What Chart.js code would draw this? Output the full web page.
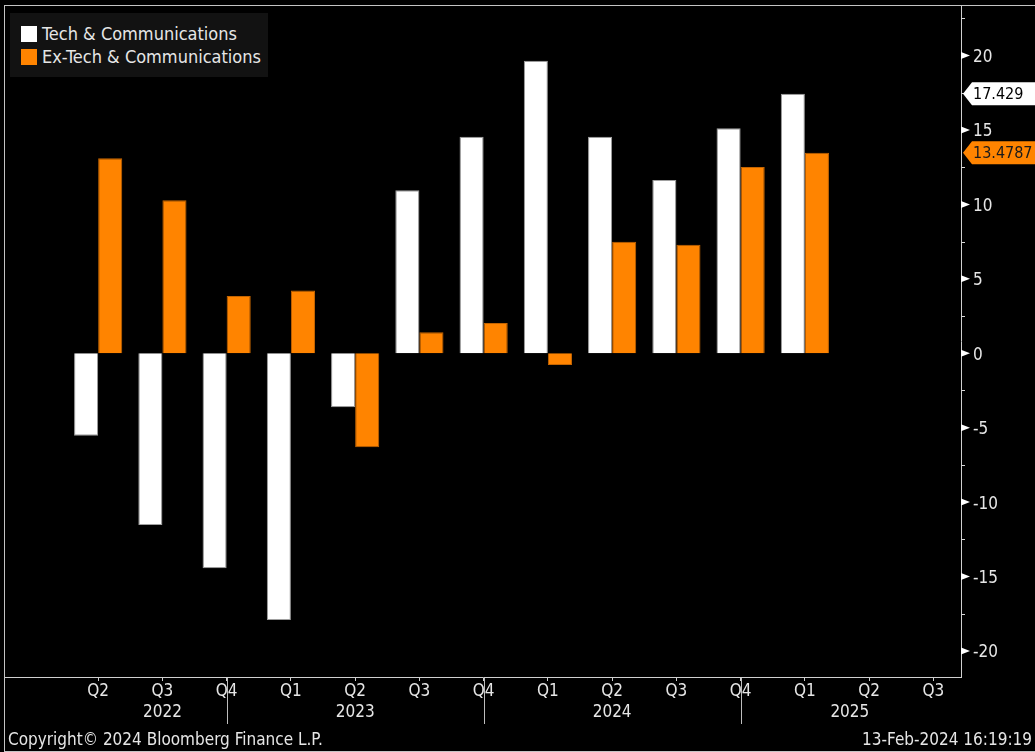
<!DOCTYPE html>
<html>
<head>
<meta charset="utf-8">
<script src="https://cdn.jsdelivr.net/npm/chart.js@4.4.1/dist/chart.umd.min.js"></script>
<style>
  html, body { margin: 0; padding: 0; background: #000; }
  #wrap {
    position: relative; width: 1035px; height: 752px; overflow: hidden;
    font-family: 'DejaVu Sans Condensed', 'DejaVu Sans', sans-serif; color: #e6e6e6;
  }
  #chart { position: absolute; left: 0; top: 0; }
  #frame {
    position: absolute; left: 4px; top: 5px; width: 1040px; height: 747px;
    border: 1px solid #c4c4c4; box-sizing: border-box; pointer-events: none;
  }
  #legend {
    position: absolute; left: 10px; top: 13px; width: 258px; height: 64px;
    background: #121212; font-size: 18px;
  }
  #legend .item { position: absolute; left: 11px; height: 20px; line-height: 20px; white-space: nowrap; }
  #legend .sw { display: inline-block; width: 16px; height: 16px; vertical-align: top; margin-top: 2px; margin-right: 5px; }
  .foot { position: absolute; top: 728px; font-size: 17px; line-height: 22px; white-space: nowrap; }
</style>
</head>
<body>
<div id="wrap">
  <canvas id="chart" width="1035" height="752"></canvas>
  <div id="legend"></div>
  <div class="foot" style="left:8px">Copyright© 2024 Bloomberg Finance L.P.</div>
  <div class="foot" style="right:3px">13-Feb-2024 16:19:19</div>
  <div id="frame"></div>
</div>
<script>
const FONT = "'DejaVu Sans Condensed', 'DejaVu Sans', sans-serif";

// quarterly axis, Q2 2022 .. Q3 2025
const quarters = ['Q2', 'Q3', 'Q4', 'Q1', 'Q2', 'Q3', 'Q4', 'Q1', 'Q2', 'Q3', 'Q4', 'Q1', 'Q2', 'Q3'];
const years = ['2022', '2023', '2024', '2025'];
const yearTickAt = [1, 4, 8, 11.7];     // where each year caption sits on the quarter axis
const yearBreaks = [2, 6, 10];          // divider lines under the axis

const seriesNames = ['Tech & Communications', 'Ex-Tech & Communications'];
const techComm = [-5.54, -11.54, -14.44, -17.92, -3.63, 10.95, 14.55, 19.66, 14.55, 11.64, 15.12, 17.429];
const exTechComm = [13.1, 10.28, 3.85, 4.21, -6.32, 1.41, 2.04, -0.79, 7.5, 7.3, 12.52, 13.4787];

const yMajor = [-20, -15, -10, -5, 0, 5, 10, 15, 20];
const yMinor = [-17.5, -12.5, -7.5, -2.5, 2.5, 7.5, 12.5, 17.5, 22.5];

const colors = ['#ffffff', '#ff8400'];
const badgeText = ['#000000', '#1a1a1a'];

// legend
const legend = document.getElementById('legend');
seriesNames.forEach((name, i) => {
  const el = document.createElement('div');
  el.className = 'item';
  el.style.top = (i === 0 ? 11 : 34) + 'px';
  el.innerHTML = '<span class="sw" style="background:' + colors[i] + '"></span>' + name;
  legend.appendChild(el);
});

// keep label overhang from shrinking the plot area
const noOverhang = (s) => {
  s.paddingTop = 0; s.paddingBottom = 0; s.paddingLeft = 0; s.paddingRight = 0;
};

// right-axis arrows, minor ticks, year row and last-value badges
const decorations = {
  id: 'decorations',
  afterDraw(chart) {
    const { ctx, chartArea } = chart;
    const x = chart.scales.x, y = chart.scales.y;
    const ax = chartArea.right;
    ctx.save();

    ctx.fillStyle = '#ffffff';
    yMajor.forEach((v) => {
      const py = y.getPixelForValue(v);
      ctx.beginPath();
      ctx.moveTo(ax, py - 3.5);
      ctx.lineTo(ax + 9, py);
      ctx.lineTo(ax, py + 3.5);
      ctx.closePath();
      ctx.fill();
    });
    ctx.strokeStyle = '#d8d8d8';
    ctx.lineWidth = 1;
    yMinor.forEach((v) => {
      const py = Math.round(y.getPixelForValue(v)) + 0.5;
      ctx.beginPath();
      ctx.moveTo(ax, py);
      ctx.lineTo(ax + 4, py);
      ctx.stroke();
    });

    // year dividers and captions
    ctx.strokeStyle = '#bdbdbd';
    yearBreaks.forEach((v) => {
      const px = Math.round(x.getPixelForValue(v)) + 0.5;
      ctx.beginPath();
      ctx.moveTo(px, chartArea.bottom + 1);
      ctx.lineTo(px, chartArea.bottom + 47);
      ctx.stroke();
    });
    ctx.fillStyle = '#e6e6e6';
    ctx.font = '17px ' + FONT;
    ctx.textAlign = 'center';
    ctx.textBaseline = 'middle';
    years.forEach((t, i) => {
      ctx.fillText(t, x.getPixelForValue(yearTickAt[i]), chartArea.bottom + 36);
    });

    // last value badges
    ctx.font = '16px ' + FONT;
    chart.data.datasets.forEach((ds, i) => {
      const last = ds.data[ds.data.length - 1];
      const py = y.getPixelForValue(last.y);
      ctx.fillStyle = colors[i];
      ctx.beginPath();
      ctx.moveTo(ax + 2, py);
      ctx.lineTo(ax + 11, py - 11.5);
      ctx.lineTo(chart.width, py - 11.5);
      ctx.lineTo(chart.width, py + 11.5);
      ctx.lineTo(ax + 11, py + 11.5);
      ctx.closePath();
      ctx.fill();
      ctx.fillStyle = badgeText[i];
      ctx.textAlign = 'left';
      ctx.fillText(String(last.y), ax + 12, py + 1);
    });
    ctx.restore();
  }
};

new Chart(document.getElementById('chart'), {
  type: 'bar',
  data: {
    datasets: [
      {
        label: seriesNames[0],
        data: techComm.map((v, i) => ({ x: i, y: v })),
        backgroundColor: colors[0],
        borderColor: '#a0a0a0',
        borderWidth: 1,
      },
      {
        label: seriesNames[1],
        data: exTechComm.map((v, i) => ({ x: i, y: v })),
        backgroundColor: colors[1],
        borderColor: '#c46400',
        borderWidth: 1,
      },
    ],
  },
  options: {
    responsive: false,
    animation: false,
    categoryPercentage: 0.75,
    barPercentage: 1,
    layout: { padding: { left: 5, top: 5, right: 0, bottom: 0 } },
    plugins: { legend: { display: false }, tooltip: { enabled: false } },
    scales: {
      x: {
        type: 'linear',
        offset: false,
        min: -1.45,
        max: 13.43,
        afterBuildTicks: (s) => { s.ticks = quarters.map((_, i) => ({ value: i })); },
        afterFit: (s) => { s.height = 75; noOverhang(s); },
        ticks: {
          color: '#e6e6e6',
          font: { family: FONT, size: 17 },
          padding: 0,
          autoSkip: false,
          maxRotation: 0,
          callback: (v) => quarters[v],
        },
        grid: { offset: false, drawOnChartArea: false, drawTicks: true, tickLength: 4, color: '#d0d0d0' },
        border: { display: true, color: '#d0d0d0', width: 1 },
      },
      y: {
        position: 'right',
        min: -21.75,
        max: 23.4,
        afterBuildTicks: (s) => { s.ticks = yMajor.map((v) => ({ value: v })); },
        afterFit: (s) => { s.width = 74; noOverhang(s); },
        ticks: {
          color: '#e6e6e6',
          font: { family: FONT, size: 17 },
          padding: 4,
          labelOffset: 2,
          callback: (v) => String(v),
        },
        grid: { display: false },
        border: { display: true, color: '#d0d0d0', width: 1 },
      },
    },
  },
  plugins: [decorations],
});
</script>
</body>
</html>
